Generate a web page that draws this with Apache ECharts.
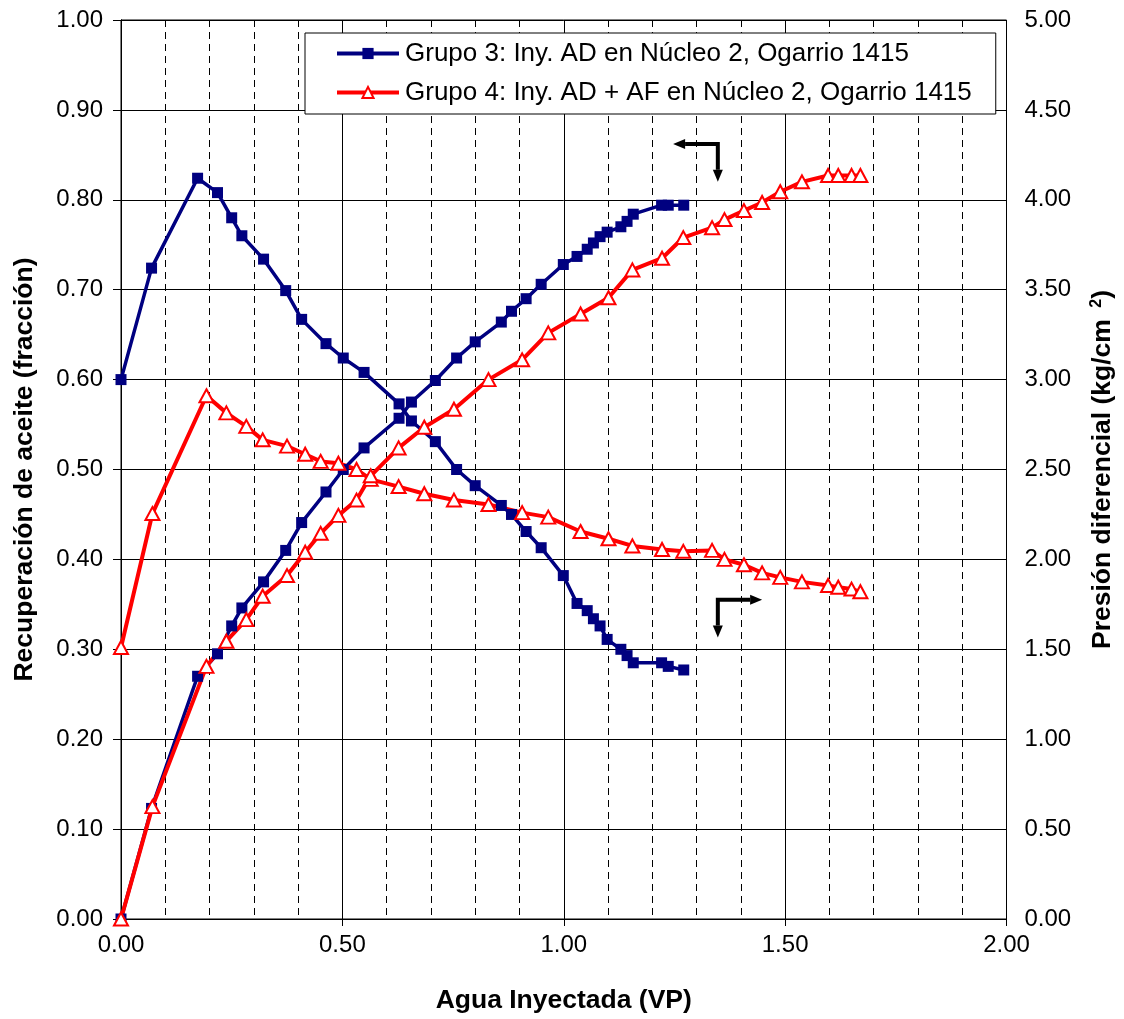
<!DOCTYPE html>
<html>
<head>
<meta charset="utf-8">
<script src="https://cdn.jsdelivr.net/npm/echarts@6/dist/echarts.min.js"></script>
<style>
html,body{margin:0;padding:0;background:#fff;}
#chart{width:1124px;height:1019px;}
</style>
</head>
<body>
<div id="chart"></div>
<script>
// Group 3 (blue squares)
const g3Name = 'Grupo 3: Iny. AD en Núcleo 2, Ogarrio 1415';
const g3X = [0, 0.069, 0.173, 0.218, 0.250, 0.273, 0.322, 0.372, 0.408, 0.463, 0.502, 0.549, 0.628, 0.656, 0.710, 0.758, 0.800, 0.859, 0.882, 0.915, 0.949, 0.999, 1.030, 1.053, 1.067, 1.082, 1.098, 1.129, 1.143, 1.157, 1.221, 1.236, 1.271];
const g3Recovery = [0, 0.123, 0.270, 0.295, 0.326, 0.346, 0.375, 0.410, 0.441, 0.475, 0.500, 0.524, 0.557, 0.575, 0.599, 0.624, 0.642, 0.664, 0.676, 0.690, 0.706, 0.728, 0.737, 0.745, 0.752, 0.759, 0.764, 0.770, 0.776, 0.784, 0.794, 0.794, 0.794];
const g3Pressure = [3.00, 3.62, 4.12, 4.04, 3.90, 3.80, 3.67, 3.495, 3.335, 3.20, 3.12, 3.04, 2.865, 2.77, 2.655, 2.50, 2.41, 2.30, 2.25, 2.155, 2.065, 1.91, 1.755, 1.715, 1.67, 1.63, 1.555, 1.50, 1.465, 1.425, 1.425, 1.405, 1.385];

// Group 4 (red triangles)
const g4Name = 'Grupo 4: Iny. AD + AF en Núcleo 2, Ogarrio 1415';
const g4X = [0, 0.071, 0.193, 0.238, 0.283, 0.320, 0.375, 0.416, 0.451, 0.491, 0.532, 0.564, 0.627, 0.685, 0.752, 0.830, 0.906, 0.965, 1.038, 1.101, 1.155, 1.222, 1.270, 1.335, 1.363, 1.407, 1.448, 1.489, 1.538, 1.597, 1.620, 1.650, 1.670];
const g4Recovery = [0, 0.125, 0.281, 0.309, 0.333, 0.359, 0.382, 0.408, 0.429, 0.449, 0.466, 0.493, 0.524, 0.547, 0.567, 0.600, 0.622, 0.652, 0.673, 0.691, 0.722, 0.735, 0.758, 0.769, 0.778, 0.788, 0.797, 0.809, 0.820, 0.827, 0.827, 0.827, 0.827];
const g4Pressure = [1.51, 2.255, 2.91, 2.815, 2.74, 2.665, 2.63, 2.585, 2.545, 2.535, 2.50, 2.445, 2.405, 2.365, 2.33, 2.305, 2.26, 2.235, 2.155, 2.115, 2.075, 2.055, 2.045, 2.05, 2.00, 1.97, 1.925, 1.90, 1.875, 1.855, 1.845, 1.835, 1.82];

// Axis labels
const xTitle = 'Agua Inyectada (VP)';
const yLeftTitle = 'Recuperación de aceite (fracción)';
const yRightTitle = 'Presión diferencial (kg/cm {sup|2})';

// Annotation arrows (data coords): [cornerX, cornerY, horizTipX, vertTipY]
const arrowLeft = [1.348, 0.862, 1.247, 0.820];
const arrowRight = [1.348, 0.355, 1.448, 0.313];

const zip = (xs, ys) => xs.map((x, i) => [x, ys[i]]);
const FONT = 'Liberation Sans, Arial, sans-serif';
const BLUE = '#000080', RED = '#FF0000';

const chart = echarts.init(document.getElementById('chart'), null, {renderer: 'canvas'});

const option = {
  backgroundColor: '#fff',
  animation: false,
  textStyle: {fontFamily: FONT},
  grid: {left: 121, right: 117, top: 20, bottom: 100, show: true, borderColor: '#000', borderWidth: 1},
  legend: {
    orient: 'vertical',
    left: 305, top: 33,
    data: [g3Name, g4Name],
    itemWidth: 62, itemHeight: 14, itemGap: 12,
    padding: [7, 24, 8, 30],
    backgroundColor: '#fff',
    borderColor: '#000', borderWidth: 1,
    lineStyle: {width: 4},
    textStyle: {fontFamily: FONT, fontSize: 26, lineHeight: 27, color: '#000', padding: [0,0,0,1]}
  },
  xAxis: [
    {
      type: 'value', min: 0, max: 2, interval: 0.1,
      axisLine: {show: true, lineStyle: {color: '#000', width: 1}},
      axisTick: {show: false},
      axisLabel: {show: false},
      splitLine: {show: true, lineStyle: {color: '#000', type: [7, 5], width: 1}}
    },
    {
      type: 'value', min: 0, max: 2, interval: 0.5, position: 'bottom',
      name: xTitle, nameLocation: 'middle', nameGap: 68,
      nameTextStyle: {fontFamily: FONT, fontSize: 26.5, fontWeight: 'bold', color: '#000'},
      axisLine: {show: true, lineStyle: {color: '#000', width: 1}},
      axisTick: {show: true, inside: false, length: 7, lineStyle: {color: '#000'}},
      axisLabel: {fontFamily: FONT, fontSize: 24, color: '#000', margin: 14, formatter: v => v.toFixed(2)},
      splitLine: {show: true, lineStyle: {color: '#000', width: 1}}
    }
  ],
  yAxis: [
    {
      type: 'value', min: 0, max: 1, interval: 0.1, position: 'left',
      name: yLeftTitle, nameLocation: 'middle', nameGap: 83, nameRotate: 90,
      nameTextStyle: {fontFamily: FONT, fontSize: 26.5, fontWeight: 'bold', color: '#000'},
      axisLine: {show: true, lineStyle: {color: '#000', width: 1}},
      axisTick: {show: true, length: 8, lineStyle: {color: '#000'}},
      axisLabel: {fontFamily: FONT, fontSize: 24, color: '#000', margin: 18, formatter: v => v.toFixed(2)},
      splitLine: {show: true, lineStyle: {color: '#000', width: 1}}
    },
    {
      type: 'value', min: 0, max: 5, interval: 0.5, position: 'right',
      name: yRightTitle, nameLocation: 'middle', nameGap: 82, nameRotate: 90,
      nameTextStyle: {fontFamily: FONT, fontSize: 26.5, fontWeight: 'bold', color: '#000',
        rich: {sup: {fontFamily: FONT, fontSize: 16, fontWeight: 'bold', color: '#000', verticalAlign: 'top', padding: [0,0,12,4]}}},
      axisLine: {show: true, lineStyle: {color: '#000', width: 1}},
      axisTick: {show: true, length: 8, lineStyle: {color: '#000'}},
      axisLabel: {fontFamily: FONT, fontSize: 24, color: '#000', margin: 18, formatter: v => v.toFixed(2)},
      splitLine: {show: false}
    }
  ],
  series: [
    {
      name: g3Name, type: 'line', xAxisIndex: 0, yAxisIndex: 1,
      data: zip(g3X, g3Pressure),
      symbol: 'rect', symbolSize: 11,
      lineStyle: {color: BLUE, width: 3.5},
      itemStyle: {color: BLUE, borderColor: BLUE, borderWidth: 0}
    },
    {
      name: g3Name, type: 'line', xAxisIndex: 0, yAxisIndex: 0,
      data: zip(g3X, g3Recovery),
      symbol: 'rect', symbolSize: 11,
      lineStyle: {color: BLUE, width: 3.5},
      itemStyle: {color: BLUE, borderColor: BLUE, borderWidth: 0}
    },
    {
      name: g4Name, type: 'line', xAxisIndex: 0, yAxisIndex: 1,
      data: zip(g4X, g4Pressure),
      symbol: 'triangle', symbolSize: [14, 13],
      lineStyle: {color: RED, width: 4},
      itemStyle: {color: '#fff', borderColor: RED, borderWidth: 2}
    },
    {
      name: g4Name, type: 'line', xAxisIndex: 0, yAxisIndex: 0,
      data: zip(g4X, g4Recovery),
      symbol: 'triangle', symbolSize: [14, 13],
      lineStyle: {color: RED, width: 4},
      itemStyle: {color: '#fff', borderColor: RED, borderWidth: 2}
    }
  ]
};
chart.setOption(option);

function arrowGraphics(a) {
  const c = chart.convertToPixel({xAxisIndex: 0, yAxisIndex: 0}, [a[0], a[1]]);
  const h = chart.convertToPixel({xAxisIndex: 0, yAxisIndex: 0}, [a[2], a[1]]);
  const v = chart.convertToPixel({xAxisIndex: 0, yAxisIndex: 0}, [a[0], a[3]]);
  const dir = Math.sign(h[0] - c[0]);
  const head = 12, half = 5;
  return [
    {type: 'polyline', shape: {points: [[h[0] - dir * head, h[1]], c, [v[0], v[1] - head]]},
     style: {stroke: '#000', lineWidth: 4, fill: null, lineJoin: 'miter'}, z: 100},
    {type: 'polygon', shape: {points: [[h[0], h[1]], [h[0] - dir * head, h[1] - half], [h[0] - dir * head, h[1] + half]]},
     style: {fill: '#000'}, z: 100},
    {type: 'polygon', shape: {points: [[v[0], v[1]], [v[0] - half, v[1] - head], [v[0] + half, v[1] - head]]},
     style: {fill: '#000'}, z: 100}
  ];
}
chart.setOption({graphic: {elements: arrowGraphics(arrowLeft).concat(arrowGraphics(arrowRight))}});
</script>
</body>
</html>
